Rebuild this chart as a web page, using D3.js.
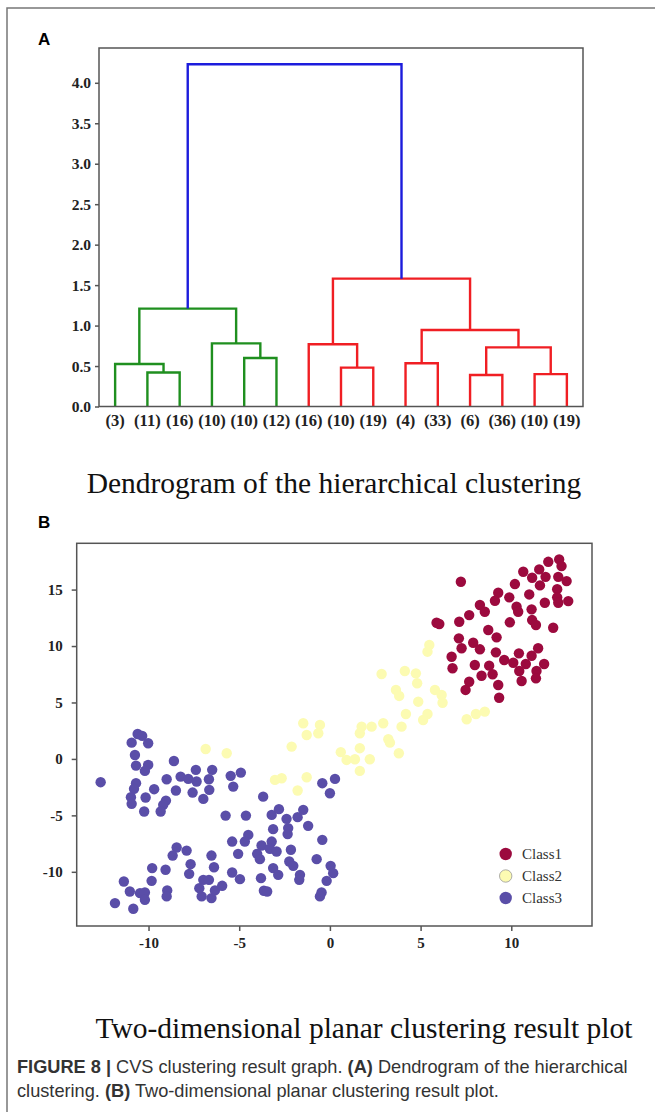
<!DOCTYPE html>
<html><head><meta charset="utf-8">
<script src="https://cdn.jsdelivr.net/npm/d3@7"></script>
<style>body{margin:0;background:#fff}svg{display:block}</style>
</head><body>
<svg id="fig" width="655" height="1112"></svg>
<script>
// ---------- Panel A data ----------
const leafLabels = ["(3)","(11)","(16)","(10)","(10)","(12)","(16)","(10)","(19)","(4)","(33)","(6)","(36)","(10)","(19)"];
// linkage rows: [childA, childB, height]; ids < 15 are leaves, ids >= 15 are earlier rows
const mergeLeft   = [1, 0, 4, 3, 16, 7, 6, 9, 11, 13, 23, 22, 21, 19];
const mergeRight  = [2, 15, 5, 17, 18, 8, 20, 10, 12, 14, 24, 25, 26, 27];
const mergeHeight = [0.42, 0.525, 0.60, 0.78, 1.21, 0.48, 0.77, 0.535, 0.39, 0.40, 0.73, 0.945, 1.58, 4.23];
const mergeGroup  = ["g","g","g","g","g","r","r","r","r","r","r","r","r","b"];
const dendroTicks = [0.0,0.5,1.0,1.5,2.0,2.5,3.0,3.5,4.0];

// ---------- Panel B data ----------
const class1X = [7.22,12.04,12.64,12.77,10.66,11.54,11.15,11.89,12.59,13.05,11.58,10.2,12.53,9.28,10.99,9.89,9.10,12.53,12.59,13.14,11.85,8.27,8.54,10.29,10.38,11.12,7.68,7.13,5.88,6.03,9.92,11.15,11.36,12.31,8.73,9.19,7.11,7.9,8.27,7.26,6.71,6.76,9.15,10.42,11.48,11.12,9.61,10.11,10.8,11.81,7.99,8.78,10.44,11.39,8.36,8.97,11.36,10.57,7.68,9.28,7.48,9.33];
const class1Y = [15.69,17.46,17.67,17.08,16.58,16.79,16.05,16.13,16.13,15.75,15.37,15.49,15.04,14.72,14.57,14.31,14.01,14.31,13.83,13.98,13.83,13.63,13.04,13.48,13.04,13.25,12.74,12.15,12.06,11.95,12.1,12.3,11.86,11.62,11.42,10.77,10.68,10.29,9.71,9.8,9.05,8.03,9.44,9.35,9.80,9.14,8.76,8.52,8.41,8.41,8.32,8.26,7.79,7.79,7.37,7.5,7.14,6.9,6.84,6.55,6.11,5.42];
const class2X = [5.48,5.38,2.85,4.13,4.74,4.81,3.64,3.82,5.79,6.16,4.87,6.21,4.19,5.38,5.14,7.54,8.05,8.54,-1.47,-0.55,1.75,2.3,2.94,3.95,1.65,3.22,3.31,0.6,0.92,1.38,1.65,2.2,3.8,1.65,-0.64,-1.28,-2.11,-6.85,-5.69,-3.03,-2.66,-1.28,-1.78];
const class2Y = [10.09,9.5,7.52,7.79,7.58,6.7,6.11,5.58,6.11,5.66,5.07,4.98,3.98,3.98,3.45,3.51,3.98,4.19,3.16,3.01,2.86,2.86,3.16,2.86,2.27,1.74,1.44,0.6,-0.09,-0.03,0.95,-0.03,0.5,-1.06,2.27,2.12,1.09,0.88,0.5,-1.86,-1.71,-1.62,-2.8];
const class3X = [-10.6,-10.35,-10.93,-10.02,-10.75,-10.69,-10.02,-10.2,-8.6,-12.64,-10.69,-10.8,-9.69,-10.97,-10.16,-10.93,-10.24,-9.0,-8.23,-7.81,-7.39,-7.35,-8.49,-7.57,-6.67,-6.49,-6.65,-6.98,-9.04,-9.19,-9.33,-5.47,-4.91,-5.33,-3.68,-5.75,-4.63,-3.21,-2.81,-2.39,-2.3,-2.33,-3.13,-1.78,-1.47,-1.2,-4.5,-4.69,-5.39,-5.06,-3.77,-3.21,-3.31,-2.94,-4.01,-3.86,-2.15,-2.24,-2.02,-3.13,-2.85,-3.8,-1.65,-1.69,-3.64,-3.46,-0.73,-0.42,0.04,0.18,-0.18,-0.46,-0.55,-0.42,0.0,0.28,-5.39,-4.96,-6.53,-6.39,-6.98,-6.67,-7.2,-7.07,-6.53,-6.34,-5.94,-8.45,-8.67,-7.9,-7.68,-7.76,-9.06,-9.8,-9.83,-11.36,-11.03,-10.47,-10.2,-10.2,-11.85,-10.84,-8.97,-9.0];
const class3Y = [2.21,2.04,1.44,1.39,0.35,-0.59,-0.53,-1.06,-0.18,-2.06,-2.15,-2.65,-2.68,-3.39,-3.42,-3.98,-4.66,-1.8,-1.57,-1.77,-0.97,-2.0,-2.8,-2.98,-1.8,-0.97,-2.74,-3.54,-3.69,-4.07,-4.66,-1.5,-1.21,-2.45,-3.34,-5.02,-5.02,-4.96,-4.45,-5.31,-6.13,-6.66,-6.22,-5.16,-4.51,-5.93,-6.73,-7.32,-7.32,-8.41,-7.67,-7.32,-7.96,-8.2,-8.41,-8.88,-8.05,-9.09,-9.47,-9.67,-10.27,-10.56,-10.27,-10.71,-11.68,-11.74,-8.88,-7.17,-9.47,-10.12,-10.8,-11.83,-12.18,-2.15,-3.04,-1.77,-10.06,-10.65,-8.56,-9.6,-10.71,-10.71,-11.45,-12.18,-12.33,-11.65,-11.24,-7.85,-8.56,-8.12,-9.32,-10.18,-9.82,-9.67,-10.8,-10.86,-11.74,-11.89,-11.83,-12.48,-12.77,-13.27,-11.65,-12.18];
const scatterXTicks = [-10,-5,0,5,10];
const scatterYTicks = [-10,-5,0,5,10,15];
const classNames = ["Class1","Class2","Class3"];

// ---------- drawing ----------
const svg = d3.select("#fig");
const SERIF = "'Liberation Serif','Times New Roman',serif";
const SANS = "'Liberation Sans',Arial,sans-serif";
const axisColor = "#555";

// outer frame
svg.append("path").attr("d","M7,1112V8H655").attr("fill","none").attr("stroke","#777").attr("stroke-width",1.5);

// panel labels
svg.append("text").attr("x",38).attr("y",45).text("A").attr("font-family",SANS).attr("font-weight","bold").attr("font-size",17);
svg.append("text").attr("x",38).attr("y",528).text("B").attr("font-family",SANS).attr("font-weight","bold").attr("font-size",17);

// ----- Panel A -----
const A = {l:99, r:583, t:48, b:406.5};
const xLeaf = d3.scalePoint().domain(d3.range(leafLabels.length)).range([A.l, A.r]).padding(0.5);
const yD = d3.scaleLinear().domain([0, 4.43]).range([A.b, A.t]);
const groupColor = {g:"#1f8f1f", r:"#f01e23", b:"#1c1cdc"};

const nodeX = d3.range(leafLabels.length).map(i => xLeaf(i));
const nodeH = d3.range(leafLabels.length).map(() => 0);
const gD = svg.append("g");
mergeHeight.forEach((h, k) => {
  const a = mergeLeft[k], b = mergeRight[k];
  const xa = nodeX[a], xb = nodeX[b];
  gD.append("path")
    .attr("d", `M${xa},${yD(nodeH[a])}V${yD(h)}H${xb}V${yD(nodeH[b])}`)
    .attr("fill","none").attr("stroke", groupColor[mergeGroup[k]]).attr("stroke-width",2.4);
  nodeX.push((xa + xb) / 2);
  nodeH.push(h);
});
// frame
svg.append("rect").attr("x",A.l).attr("y",A.t).attr("width",A.r-A.l).attr("height",A.b-A.t)
  .attr("fill","none").attr("stroke",axisColor).attr("stroke-width",1.5);
const yAxisA = svg.append("g").attr("transform",`translate(${A.l},0)`)
  .call(d3.axisLeft(yD).tickValues(dendroTicks).tickFormat(d3.format(".1f")).tickSize(4).tickPadding(4));
yAxisA.select(".domain").remove();
yAxisA.selectAll("line").attr("stroke",axisColor).attr("stroke-width",1.5);
yAxisA.selectAll("text").attr("font-family",SERIF).attr("font-weight","bold").attr("font-size",15.5).attr("fill","#222");
svg.append("g").selectAll("text").data(leafLabels).join("text")
  .attr("x",(d,i)=>xLeaf(i)).attr("y",426).attr("text-anchor","middle")
  .attr("font-family",SERIF).attr("font-weight","bold").attr("font-size",16.5).attr("fill","#222").text(d=>d);
svg.append("text").attr("x",334).attr("y",493).attr("text-anchor","middle")
  .attr("font-family",SERIF).attr("font-size",29.5).attr("fill","#111").text("Dendrogram of the hierarchical clustering");

// ----- Panel B -----
const B = {l:76.7, r:592, t:543.3, b:926};
const xS = d3.scaleLinear().domain([-13.96, 14.45]).range([B.l, B.r]);
const yS = d3.scaleLinear().domain([-14.8, 19.1]).range([B.b, B.t]);
const classColor = ["#9c0a3e","#fcfbb2","#5a4ea8"];

const gP = svg.append("g");
function drawClass(xs, ys, ci){
  gP.append("g").selectAll("circle").data(xs.map((x,i)=>[x, ys[i]])).join("circle")
    .attr("cx",d=>xS(d[0])).attr("cy",d=>yS(d[1])).attr("r",5.2).attr("fill",classColor[ci]);
}
drawClass(class2X, class2Y, 1);
drawClass(class3X, class3Y, 2);
drawClass(class1X, class1Y, 0);

svg.append("rect").attr("x",B.l).attr("y",B.t).attr("width",B.r-B.l).attr("height",B.b-B.t)
  .attr("fill","none").attr("stroke",axisColor).attr("stroke-width",1.5);
const hyphen = d => String(d);
const xAxisB = svg.append("g").attr("transform",`translate(0,${B.b})`)
  .call(d3.axisBottom(xS).tickValues(scatterXTicks).tickFormat(hyphen).tickSize(5).tickPadding(6));
const yAxisB = svg.append("g").attr("transform",`translate(${B.l},0)`)
  .call(d3.axisLeft(yS).tickValues(scatterYTicks).tickFormat(hyphen).tickSize(5).tickPadding(9));
[xAxisB, yAxisB].forEach(ax => {
  ax.select(".domain").remove();
  ax.selectAll("line").attr("stroke",axisColor).attr("stroke-width",1.5);
  ax.selectAll("text").attr("font-family",SERIF).attr("font-weight","bold").attr("font-size",15).attr("fill","#222");
});

// legend
const leg = svg.append("g");
classNames.forEach((name, i) => {
  const cy = 854 + i * 22;
  leg.append("circle").attr("cx",505.7).attr("cy",cy).attr("r",6.2).attr("fill",classColor[i])
    .attr("stroke", i === 1 ? "#999" : "none").attr("stroke-width",0.8);
  leg.append("text").attr("x",522).attr("y",cy+5).text(name)
    .attr("font-family",SERIF).attr("font-size",15).attr("fill","#333");
});

svg.append("text").attr("x",364).attr("y",1038).attr("text-anchor","middle")
  .attr("font-family",SERIF).attr("font-size",29.5).attr("fill","#111").text("Two-dimensional planar clustering result plot");

// caption
const cap1 = svg.append("text").attr("x",17).attr("y",1073).attr("font-family",SANS).attr("font-size",18.2).attr("fill","#333");
cap1.append("tspan").attr("font-weight","bold").text("FIGURE 8 | ");
cap1.append("tspan").text("CVS clustering result graph. ");
cap1.append("tspan").attr("font-weight","bold").text("(A)");
cap1.append("tspan").text(" Dendrogram of the hierarchical");
const cap2 = svg.append("text").attr("x",17).attr("y",1097).attr("font-family",SANS).attr("font-size",18.2).attr("fill","#333");
cap2.append("tspan").text("clustering. ");
cap2.append("tspan").attr("font-weight","bold").text("(B)");
cap2.append("tspan").text(" Two-dimensional planar clustering result plot.");
</script>
</body></html>
